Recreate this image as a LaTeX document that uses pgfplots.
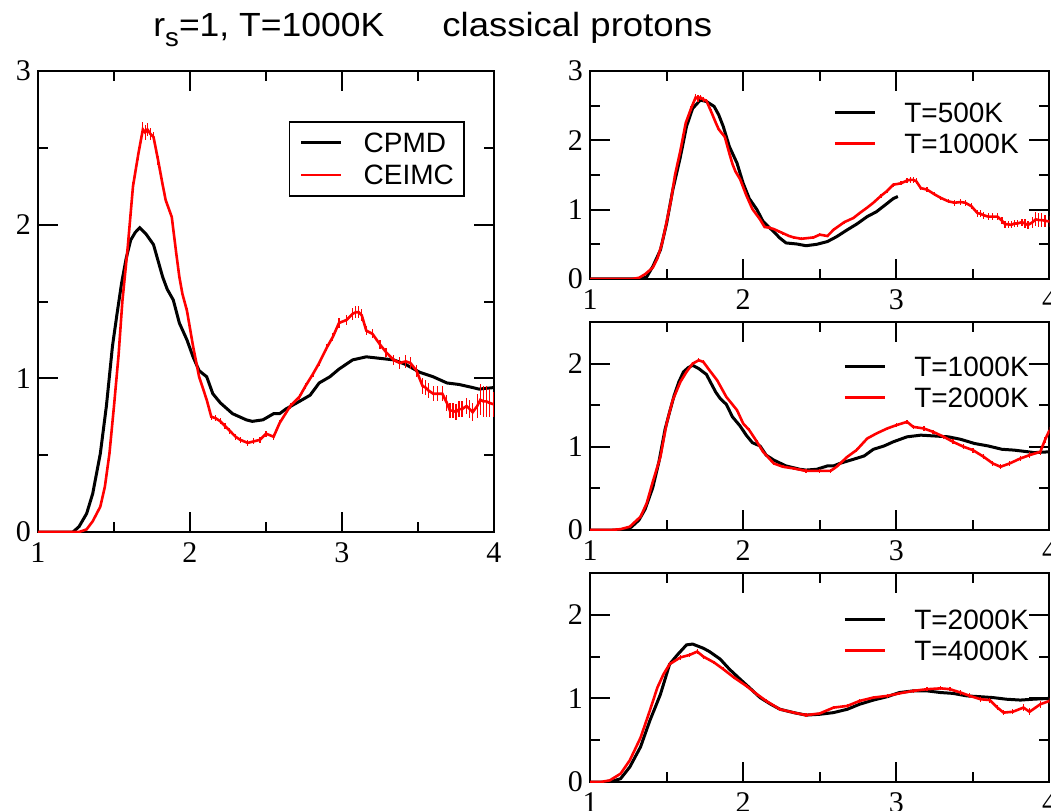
\documentclass[border=0pt]{standalone}
\usepackage{fontspec}
\setmainfont{Liberation Serif}
\newfontfamily\arial{Liberation Sans}
\usepackage{pgfplots}
\pgfplotsset{compat=1.18}
\usepackage{pgfplotstable}

% CEIMC, T=1000K (left red, top-right red)
\pgfplotstableread{
x y e
1.00 0 0
1.27 0 0
1.32 0.017 0.005
1.36 0.07 0.005
1.41 0.165 0.01
1.44 0.295 0.01
1.47 0.51 0.01
1.50 0.82 0.015
1.53 1.15 0.015
1.555 1.50 0.02
1.59 1.85 0.02
1.625 2.25 0.03
1.66 2.46 0.04
1.69 2.62 0.05
1.705 2.60 0.05
1.72 2.62 0.04
1.74 2.59 0.04
1.76 2.57 0.03
1.79 2.42 0.03
1.82 2.26 0.02
1.84 2.16 0.02
1.88 2.05 0.02
1.91 1.81 0.02
1.93 1.66 0.015
1.95 1.55 0.015
1.98 1.44 0.015
2.02 1.21 0.015
2.06 1.01 0.015
2.11 0.86 0.015
2.14 0.75 0.02
2.17 0.74 0.02
2.20 0.72 0.02
2.23 0.69 0.02
2.26 0.66 0.02
2.30 0.62 0.02
2.33 0.60 0.02
2.38 0.58 0.02
2.42 0.59 0.02
2.46 0.60 0.02
2.50 0.64 0.02
2.55 0.62 0.02
2.59 0.71 0.02
2.66 0.82 0.02
2.72 0.88 0.02
2.76 0.95 0.02
2.81 1.03 0.02
2.85 1.10 0.02
2.90 1.20 0.025
2.94 1.27 0.025
2.98 1.36 0.03
3.03 1.38 0.03
3.07 1.42 0.04
3.09 1.43 0.04
3.11 1.43 0.04
3.13 1.41 0.04
3.16 1.31 0.03
3.20 1.29 0.03
3.25 1.22 0.03
3.29 1.17 0.03
3.34 1.12 0.03
3.38 1.10 0.04
3.42 1.11 0.04
3.45 1.10 0.04
3.49 1.05 0.04
3.53 0.95 0.05
3.55 0.94 0.05
3.57 0.92 0.05
3.60 0.90 0.05
3.63 0.90 0.05
3.66 0.90 0.05
3.69 0.84 0.05
3.71 0.79 0.05
3.73 0.79 0.05
3.75 0.78 0.05
3.77 0.80 0.05
3.79 0.80 0.05
3.82 0.82 0.05
3.84 0.80 0.06
3.86 0.78 0.06
3.89 0.82 0.08
3.91 0.86 0.10
3.93 0.85 0.10
3.95 0.85 0.10
3.97 0.84 0.09
4.00 0.83 0.08
}\ceimc

% CPMD, T=1000K (left black, middle black)
\pgfplotstableread{
x y
1.00 0
1.23 0
1.27 0.035
1.32 0.12
1.36 0.25
1.41 0.51
1.45 0.82
1.49 1.21
1.52 1.42
1.55 1.62
1.58 1.78
1.61 1.90
1.64 1.95
1.67 1.98
1.71 1.94
1.76 1.87
1.80 1.73
1.82 1.66
1.85 1.58
1.89 1.51
1.93 1.36
1.98 1.25
2.02 1.14
2.06 1.05
2.11 1.01
2.15 0.90
2.20 0.84
2.28 0.77
2.37 0.73
2.41 0.72
2.48 0.73
2.55 0.77
2.59 0.77
2.63 0.80
2.72 0.85
2.79 0.89
2.85 0.97
2.92 1.01
2.98 1.06
3.07 1.12
3.16 1.14
3.25 1.13
3.34 1.12
3.42 1.09
3.51 1.04
3.60 1.01
3.69 0.97
3.77 0.96
3.86 0.94
3.90 0.93
4.00 0.94
}\cpmd

% T=500K (top-right black)
\pgfplotstableread{
x y
1.00 0
1.33 0
1.37 0.03
1.41 0.18
1.46 0.42
1.50 0.80
1.54 1.28
1.59 1.76
1.63 2.20
1.67 2.46
1.72 2.58
1.76 2.56
1.81 2.49
1.84 2.37
1.87 2.20
1.91 1.91
1.96 1.67
2.00 1.38
2.04 1.16
2.09 1.00
2.13 0.83
2.20 0.68
2.24 0.59
2.28 0.52
2.35 0.505
2.41 0.48
2.48 0.50
2.55 0.54
2.61 0.61
2.68 0.71
2.74 0.79
2.81 0.90
2.87 0.97
2.94 1.09
2.98 1.16
3.01 1.19
}\tfive

% T=2000K (middle red)
\pgfplotstableread{
x y e
1.00 0 0
1.13 0 0
1.20 0.01 0.005
1.26 0.04 0.005
1.33 0.16 0.01
1.37 0.32 0.01
1.41 0.58 0.01
1.46 0.88 0.015
1.50 1.28 0.015
1.54 1.56 0.02
1.59 1.78 0.02
1.63 1.90 0.02
1.67 2.00 0.025
1.71 2.04 0.025
1.74 2.02 0.025
1.78 1.92 0.02
1.83 1.80 0.02
1.89 1.60 0.02
1.96 1.44 0.02
2.00 1.28 0.02
2.04 1.20 0.02
2.09 1.06 0.02
2.13 0.94 0.02
2.20 0.80 0.02
2.26 0.76 0.02
2.33 0.74 0.02
2.41 0.71 0.02
2.50 0.71 0.02
2.57 0.71 0.02
2.61 0.76 0.02
2.68 0.88 0.02
2.74 0.96 0.02
2.81 1.10 0.02
2.87 1.16 0.02
2.94 1.22 0.02
3.00 1.26 0.025
3.07 1.30 0.025
3.11 1.24 0.025
3.18 1.22 0.025
3.24 1.18 0.025
3.31 1.12 0.025
3.37 1.06 0.03
3.44 1.00 0.03
3.50 0.96 0.03
3.57 0.88 0.03
3.63 0.80 0.03
3.68 0.76 0.03
3.74 0.80 0.03
3.81 0.86 0.03
3.87 0.90 0.04
3.94 0.94 0.04
3.97 1.08 0.04
4.00 1.20 0.04
}\ttwored

% T=2000K (bottom black)
\pgfplotstableread{
x y
1.00 0
1.13 0
1.20 0.04
1.26 0.18
1.33 0.42
1.39 0.73
1.46 1.05
1.52 1.41
1.57 1.52
1.63 1.64
1.67 1.65
1.74 1.60
1.78 1.56
1.85 1.47
1.91 1.35
1.98 1.23
2.04 1.13
2.11 1.01
2.18 0.93
2.24 0.87
2.33 0.83
2.41 0.80
2.50 0.81
2.59 0.83
2.68 0.87
2.76 0.93
2.85 0.98
2.94 1.02
3.02 1.07
3.11 1.09
3.20 1.09
3.29 1.07
3.37 1.06
3.46 1.03
3.55 1.02
3.63 1.01
3.72 0.99
3.81 0.98
3.89 0.99
4.00 1.00
}\ttwoblk

% T=4000K (bottom red)
\pgfplotstableread{
x y e
1.00 0 0
1.07 0 0
1.13 0.02 0.005
1.20 0.10 0.01
1.26 0.26 0.01
1.33 0.53 0.015
1.39 0.85 0.015
1.44 1.13 0.02
1.48 1.29 0.02
1.52 1.41 0.02
1.59 1.49 0.025
1.65 1.52 0.025
1.70 1.56 0.025
1.74 1.50 0.025
1.81 1.43 0.02
1.87 1.35 0.02
1.94 1.25 0.02
2.02 1.15 0.02
2.09 1.05 0.02
2.15 0.97 0.02
2.24 0.87 0.02
2.33 0.83 0.02
2.41 0.80 0.02
2.50 0.82 0.02
2.59 0.89 0.02
2.68 0.91 0.02
2.76 0.97 0.02
2.85 1.01 0.02
2.94 1.03 0.02
3.02 1.06 0.02
3.11 1.09 0.025
3.20 1.11 0.025
3.29 1.12 0.025
3.35 1.11 0.025
3.42 1.07 0.025
3.48 1.03 0.03
3.55 0.99 0.03
3.61 0.98 0.03
3.66 0.89 0.03
3.70 0.83 0.03
3.76 0.84 0.03
3.83 0.89 0.04
3.87 0.84 0.04
3.94 0.93 0.04
4.00 0.97 0.04
}\tfour

\pgfplotsset{
  panel/.style={
    scale only axis, xmin=1, xmax=4, xtick={1,2,3,4},
    minor x tick num=1, minor y tick num=1,
    tick align=inside, major tick length=10pt, minor tick length=5pt,
    every tick/.style={black, line width=1pt},
    axis line style={line width=1pt},
    /pgf/number format/assume math mode=true,
    tick label style={font=\fontsize{15}{15}\selectfont},
    xticklabel style={yshift=-2pt},
    yticklabel style={xshift=0pt},
    legend image code/.code={\draw[##1] (0pt,0pt) -- (20pt,0pt); \path (34pt,0pt);},
    legend style={draw=none, fill=none, inner sep=0pt, row sep=5.5pt,
      font=\arial\fontsize{14}{14}\selectfont,
      nodes={inner sep=0pt, text height=10pt, text depth=0pt},
      anchor=north west, cells={anchor=west}},
  },
}

\begin{document}
\begin{tikzpicture}
% title
\node[anchor=base west, inner sep=0pt, font=\arial\fontsize{16.75}{17}\selectfont] at (76.5pt,386.5pt)
  {\scalebox{1.06}[1]{r\raisebox{-5pt}{\fontsize{13}{13}\selectfont s}=1, T=1000K}};
\node[anchor=base west, inner sep=0pt, font=\arial\fontsize{16.75}{17}\selectfont] at (221pt,386.5pt)
  {\scalebox{1.09}[1]{classical protons}};

% left panel
\begin{axis}[panel, at={(19pt,139pt)}, anchor=south west,
  width=228pt, height=230.5pt, ymin=0, ymax=3, ytick={0,1,2,3},
  legend image code/.code={\draw[#1] (0pt,0pt) -- (20pt,0pt); \path (30.5pt,0pt);},
  legend style={draw=black, line width=0.75pt, fill=white, inner xsep=5pt, inner ysep=5.5pt, row sep=6pt,
    at={(axis cs:2.651,2.674)}, anchor=north west}]
\addplot[black, line width=1.5pt] table[x=x,y=y] {\cpmd};
\addlegendentry{CPMD}
\addplot[red, line width=1.3pt, error bars/.cd, y dir=both, y explicit, error mark=none,
  error bar style={red, line width=0.6pt}] table[x=x,y=y,y error=e] {\ceimc};
\addlegendentry{CEIMC}
\end{axis}

% top right
\begin{axis}[panel, at={(295pt,265.5pt)}, anchor=south west,
  width=229.75pt, height=104pt, ymin=0, ymax=3, ytick={0,1,2,3},
  legend style={at={(axis cs:2.586,2.553)}}]
\addplot[black, line width=1.5pt] table[x=x,y=y] {\tfive};
\addlegendentry{T=500K}
\addplot[red, line width=1.3pt, error bars/.cd, y dir=both, y explicit, error mark=none,
  error bar style={red, line width=0.6pt}] table[x=x,y=y,y error=e] {\ceimc};
\addlegendentry{T=1000K}
\end{axis}

% middle right
\begin{axis}[panel, at={(295pt,140pt)}, anchor=south west,
  width=229.75pt, height=104pt, ymin=0, ymax=2.5, ytick={0,1,2},
  legend style={at={(axis cs:2.651,2.09)}}]
\addplot[black, line width=1.5pt] table[x=x,y=y] {\cpmd};
\addlegendentry{T=1000K}
\addplot[red, line width=1.3pt, error bars/.cd, y dir=both, y explicit, error mark=none,
  error bar style={red, line width=0.6pt}] table[x=x,y=y,y error=e] {\ttwored};
\addlegendentry{T=2000K}
\end{axis}

% bottom right
\begin{axis}[panel, at={(295pt,14pt)}, anchor=south west,
  width=229.75pt, height=104.5pt, ymin=0, ymax=2.5, ytick={0,1,2},
  legend style={at={(axis cs:2.651,2.067)}}]
\addplot[black, line width=1.5pt] table[x=x,y=y] {\ttwoblk};
\addlegendentry{T=2000K}
\addplot[red, line width=1.3pt, error bars/.cd, y dir=both, y explicit, error mark=none,
  error bar style={red, line width=0.6pt}] table[x=x,y=y,y error=e] {\tfour};
\addlegendentry{T=4000K}
\end{axis}

\pgfresetboundingbox
\path[use as bounding box] (0pt,0pt) rectangle (525.5pt,405pt);
\end{tikzpicture}
\end{document}
